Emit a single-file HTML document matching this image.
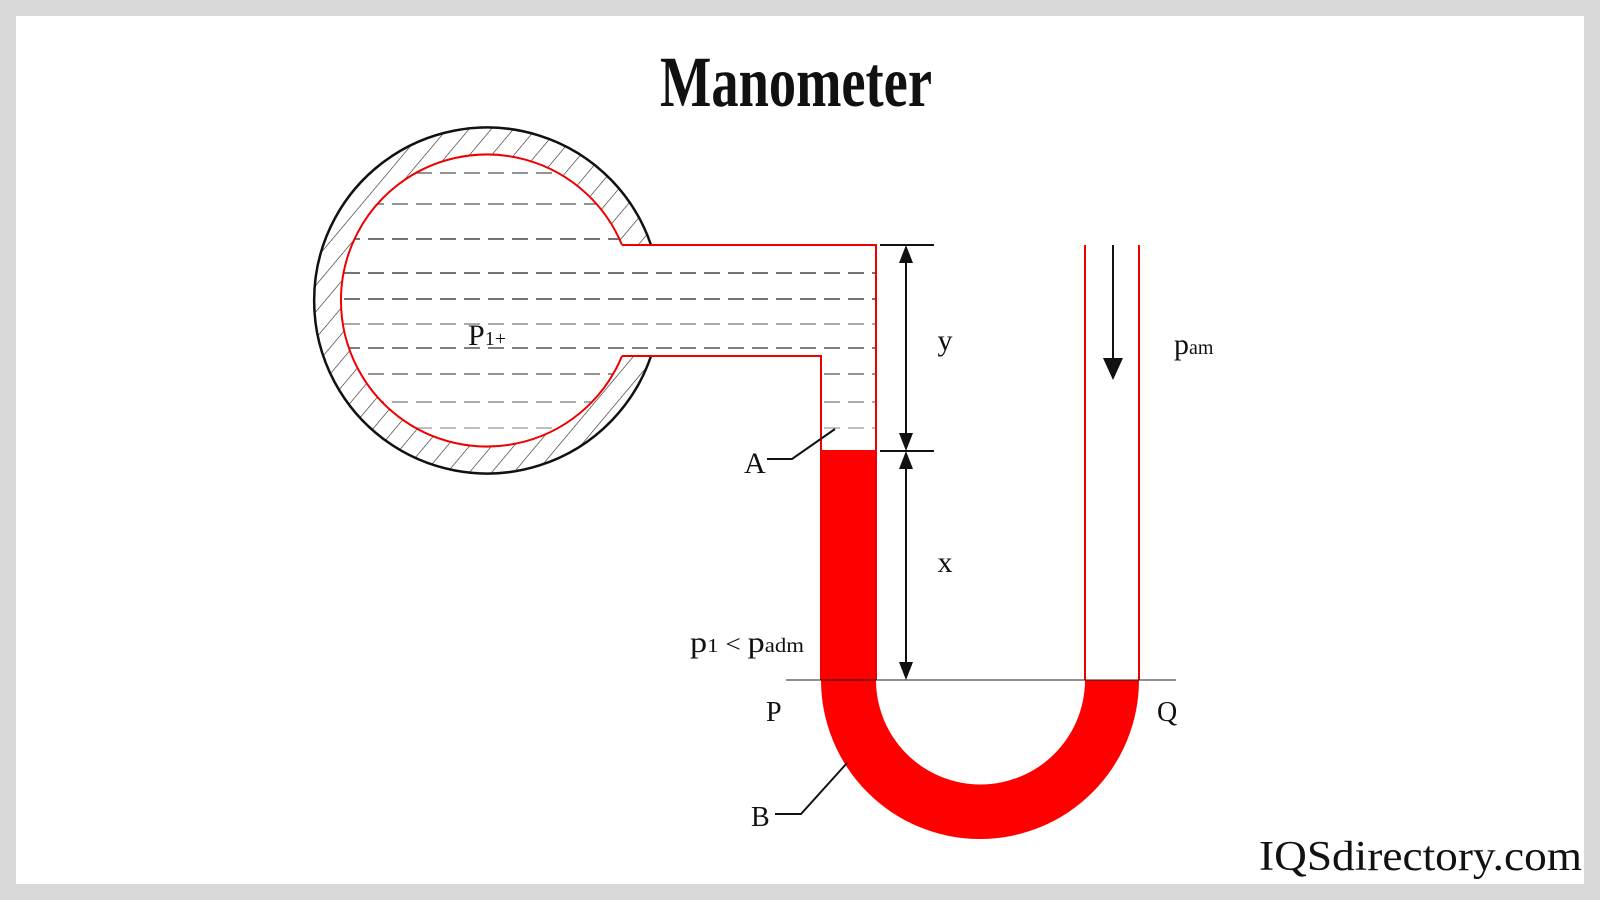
<!DOCTYPE html>
<html><head><meta charset="utf-8"><style>
html,body{margin:0;padding:0;background:#d9d9d9;}
svg{display:block;}
text{font-family:"Liberation Serif",serif;fill:#111;}
</style></head><body>
<svg width="1600" height="900" viewBox="0 0 1600 900" xmlns="http://www.w3.org/2000/svg">
<defs>
<clipPath id="outer"><circle cx="487" cy="301" r="173"/></clipPath>
<clipPath id="inner">
<circle cx="487" cy="301" r="146"/>
<rect x="600" y="245" width="276" height="111"/>
<rect x="821" y="245" width="55" height="205"/>
</clipPath>
<pattern id="hatch" patternUnits="userSpaceOnUse" width="17" height="17" patternTransform="rotate(40)">
<line x1="0" y1="0" x2="0" y2="17" stroke="#222" stroke-width="1.2"/>
</pattern>
</defs>
<rect x="16" y="16" width="1568" height="868" fill="#fff"/>
<text x="660" y="106" font-size="72" font-weight="bold" textLength="272" lengthAdjust="spacingAndGlyphs">Manometer</text>

<!-- bulb hatch -->
<rect x="300" y="120" width="380" height="360" fill="url(#hatch)" clip-path="url(#outer)"/>
<g fill="#fff">
<circle cx="487" cy="301" r="146"/>
<rect x="600" y="245" width="276" height="111"/>
<rect x="821" y="245" width="55" height="205"/>
</g>
<path d="M651,245 A173 173 0 1 0 651,356" fill="none" stroke="#111" stroke-width="2.5"/>
<!-- dashes -->
<g clip-path="url(#inner)" stroke-width="1.3" stroke-dasharray="16,8">
<line x1="320" y1="173" x2="880" y2="173" stroke="#555"/>
<line x1="320" y1="204" x2="880" y2="204" stroke="#555"/>
<line x1="320" y1="239" x2="880" y2="239" stroke="#222"/>
<line x1="320" y1="273" x2="880" y2="273" stroke="#222"/>
<line x1="320" y1="299" x2="880" y2="299" stroke="#222"/>
<line x1="320" y1="324" x2="880" y2="324" stroke="#777"/>
<line x1="320" y1="348" x2="880" y2="348" stroke="#333"/>
<line x1="320" y1="374" x2="880" y2="374" stroke="#555"/>
<line x1="320" y1="402" x2="880" y2="402" stroke="#777"/>
<line x1="320" y1="428" x2="880" y2="428" stroke="#999"/>
</g>
<!-- red fluid -->
<path d="M821,450 H876 V680 A104.5 104.5 0 0 0 1085,680 H1139 A159 159 0 0 1 821,680 Z" fill="#ff0000"/>
<!-- red outlines -->
<g fill="none" stroke="#e00" stroke-width="2">
<path d="M622,245 A146 146 0 1 0 622,356"/>
<path d="M622,245 H876 V680"/>
<path d="M622,356 H821 V680"/>
<line x1="1085" y1="245" x2="1085" y2="680"/>
<line x1="1139" y1="245" x2="1139" y2="680"/>
</g>
<!-- reference line -->
<line x1="786" y1="680" x2="1176" y2="680" stroke="#222" stroke-width="1"/>
<!-- dimensions -->
<g stroke="#111" stroke-width="2" fill="none">
<line x1="880" y1="245" x2="934" y2="245"/>
<line x1="880" y1="451" x2="934" y2="451"/>
<line x1="906" y1="250" x2="906" y2="445"/>
<line x1="906" y1="457" x2="906" y2="675"/>
<line x1="1113" y1="245" x2="1113" y2="365"/>
<polyline points="767,459 792,459 835,429"/>
<polyline points="775,814 801,814 847,763"/>
</g>
<g fill="#111">
<polygon points="906,245 899,263 913,263"/>
<polygon points="906,451 899,433 913,433"/>
<polygon points="906,451 899,469 913,469"/>
<polygon points="906,680 899,662 913,662"/>
<polygon points="1113,380 1103,358 1123,358"/>
</g>
<!-- labels -->
<text x="945" y="350" font-size="30" text-anchor="middle">y</text>
<text x="945" y="572" font-size="30" text-anchor="middle">x</text>
<text x="1174" y="354" font-size="30">p<tspan font-size="20">am</tspan></text>
<text x="468" y="345" font-size="30">P<tspan font-size="20">1+</tspan></text>
<text x="744" y="473" font-size="30">A</text>
<text x="766" y="721" font-size="28">P</text>
<text x="1157" y="721" font-size="28">Q</text>
<text x="751" y="826" font-size="28">B</text>
<text x="690" y="652" font-size="30" textLength="114" lengthAdjust="spacingAndGlyphs">p<tspan font-size="20">1</tspan><tspan font-size="24"> &lt; </tspan>p<tspan font-size="20">adm</tspan></text>
<text x="1259" y="870" font-size="42" textLength="323" lengthAdjust="spacingAndGlyphs">IQSdirectory.com</text>
</svg>
</body></html>
